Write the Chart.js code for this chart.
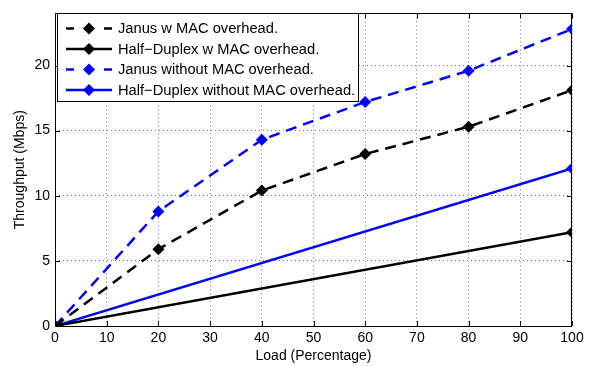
<!DOCTYPE html>
<html>
<head>
<meta charset="utf-8">
<script src="https://cdn.jsdelivr.net/npm/chart.js@4/dist/chart.umd.min.js"></script>
<style>
  html, body { margin: 0; padding: 0; background: #fff; }
  #wrap { width: 590px; height: 366px; }
</style>
</head>
<body>
<div id="wrap"><canvas id="c" width="590" height="366"></canvas></div>
<script>
// ---- Data ----
const loads = [0, 20, 40, 60, 80, 100];
const janusMac = [0, 5.9, 10.4, 13.2, 15.3, 18.1];
const janusNoMac = [0, 8.8, 14.3, 17.2, 19.6, 22.8];
const halfLoads = [0, 100];
const halfMac = [0, 7.2];
const halfNoMac = [0, 12.1];
const seriesLabels = [
  'Janus w MAC overhead.',
  'Half\u2212Duplex w MAC overhead.',
  'Janus without MAC overhead.',
  'Half\u2212Duplex without MAC overhead.'
];
const xTicks = [0, 10, 20, 30, 40, 50, 60, 70, 80, 90, 100];
const yTicks = [0, 5, 10, 15, 20];
const xTitle = 'Load (Percentage)';
const yTitle = 'Throughput (Mbps)';

const FONT = 'Liberation Sans, Arial, Helvetica, sans-serif';
const BLUE = '#0000ff';
const BLACK = '#000000';
const DASH = [11, 7];

function pts(xs, ys) { return xs.map((x, i) => ({ x: x, y: ys[i] })); }

function ds(label, data, color, dashed) {
  return {
    label: label,
    data: data,
    borderColor: color,
    backgroundColor: color,
    borderWidth: 2.5,
    borderDash: dashed ? DASH : [],
    pointStyle: 'rectRot',
    pointRadius: 6,
    pointHoverRadius: 6,
    pointBackgroundColor: color,
    pointBorderColor: color,
    pointBorderWidth: 0,
    tension: 0,
    fill: false
  };
}

const frameAndLegend = {
  id: 'frameAndLegend',
  beforeDatasetsDraw(chart) {
    const ctx = chart.ctx;
    const a = chart.chartArea;
    const xs = chart.scales.x, ys = chart.scales.y;
    ctx.save();
    ctx.strokeStyle = '#000';
    ctx.lineWidth = 1;
    ctx.setLineDash([]);
    ctx.strokeRect(Math.round(a.left) + 0.5, Math.round(a.top) + 0.5,
                   Math.round(a.right - a.left) - 1, Math.round(a.bottom - a.top));
    // inward ticks on all four sides
    const tl = 5;
    ctx.beginPath();
    xTicks.forEach(v => {
      const px = Math.round(xs.getPixelForValue(v)) + 0.5;
      ctx.moveTo(px, a.bottom); ctx.lineTo(px, a.bottom - tl);
      ctx.moveTo(px, a.top); ctx.lineTo(px, a.top + tl);
    });
    yTicks.forEach(v => {
      const py = Math.round(ys.getPixelForValue(v)) + 0.5;
      ctx.moveTo(a.left, py); ctx.lineTo(a.left + tl, py);
      ctx.moveTo(a.right, py); ctx.lineTo(a.right - tl, py);
    });
    ctx.stroke();
    ctx.restore();
  },
  afterDraw(chart) {
    const ctx = chart.ctx;
    const box = { x: 57.5, y: 13.5, w: 301, h: 88 };
    ctx.save();
    ctx.fillStyle = '#fff';
    ctx.fillRect(box.x, box.y, box.w, box.h);
    ctx.strokeStyle = '#000';
    ctx.lineWidth = 1;
    ctx.setLineDash([]);
    ctx.strokeRect(box.x, box.y, box.w, box.h);
    const rowY0 = 28.5, step = 20.5;
    const lx0 = 66, lx1 = 112, mx = 89, tx = 118;
    chart.data.datasets.forEach((d, i) => {
      const y = rowY0 + i * step;
      ctx.strokeStyle = d.borderColor;
      ctx.lineWidth = d.borderWidth;
      ctx.setLineDash([]);
      ctx.beginPath();
      if (d.borderDash && d.borderDash.length) {
        ctx.moveTo(lx0, y); ctx.lineTo(lx0 + 8, y);
        ctx.moveTo(lx1 - 8, y); ctx.lineTo(lx1, y);
      } else {
        ctx.moveTo(lx0, y); ctx.lineTo(lx1, y);
      }
      ctx.stroke();
      // diamond marker
      const r = d.pointRadius;
      ctx.fillStyle = d.pointBackgroundColor;
      ctx.beginPath();
      ctx.moveTo(mx, y - r); ctx.lineTo(mx + r, y); ctx.lineTo(mx, y + r); ctx.lineTo(mx - r, y);
      ctx.closePath();
      ctx.fill();
      ctx.fillStyle = '#000';
      ctx.font = '14.7px ' + FONT;
      ctx.textBaseline = 'middle';
      ctx.textAlign = 'left';
      ctx.fillText(d.label, tx, y + 0.5);
    });
    ctx.restore();
  }
};

new Chart(document.getElementById('c'), {
  type: 'line',
  data: {
    datasets: [
      ds(seriesLabels[0], pts(loads, janusMac), BLACK, true),
      ds(seriesLabels[1], pts(halfLoads, halfMac), BLACK, false),
      ds(seriesLabels[2], pts(loads, janusNoMac), BLUE, true),
      ds(seriesLabels[3], pts(halfLoads, halfNoMac), BLUE, false)
    ]
  },
  options: {
    responsive: false,
    animation: false,
    events: [],
    layout: { padding: { top: 6, right: 18, left: 0, bottom: 0 } },
    plugins: { legend: { display: false }, tooltip: { enabled: false } },
    scales: {
      x: {
        type: 'linear',
        min: 0, max: 100,
        afterFit(s) { s.height = 40; },
        afterBuildTicks(s) { s.ticks = xTicks.map(v => ({ value: v })); },
        ticks: { color: '#000', font: { size: 14, family: FONT }, padding: 4, maxRotation: 0, autoSkip: false },
        grid: { color: 'rgba(0,0,0,0.55)', lineWidth: 1, drawTicks: false },
        border: { display: false, dash: [1, 3] },
        title: { display: true, text: xTitle, color: '#000', font: { size: 14, family: FONT }, padding: { top: 0, bottom: 1 } }
      },
      y: {
        type: 'linear',
        min: 0, max: 24,
        afterFit(s) { s.width = 55; },
        afterBuildTicks(s) { s.ticks = yTicks.map(v => ({ value: v })); },
        ticks: { color: '#000', font: { size: 14, family: FONT }, padding: 5, autoSkip: false },
        grid: { color: 'rgba(0,0,0,0.55)', lineWidth: 1, drawTicks: false },
        border: { display: false, dash: [1, 3] },
        title: { display: true, text: yTitle, color: '#000', font: { size: 14, family: FONT }, padding: { top: 11.5, bottom: 0 } }
      }
    }
  },
  plugins: [frameAndLegend]
});
</script>
</body>
</html>
